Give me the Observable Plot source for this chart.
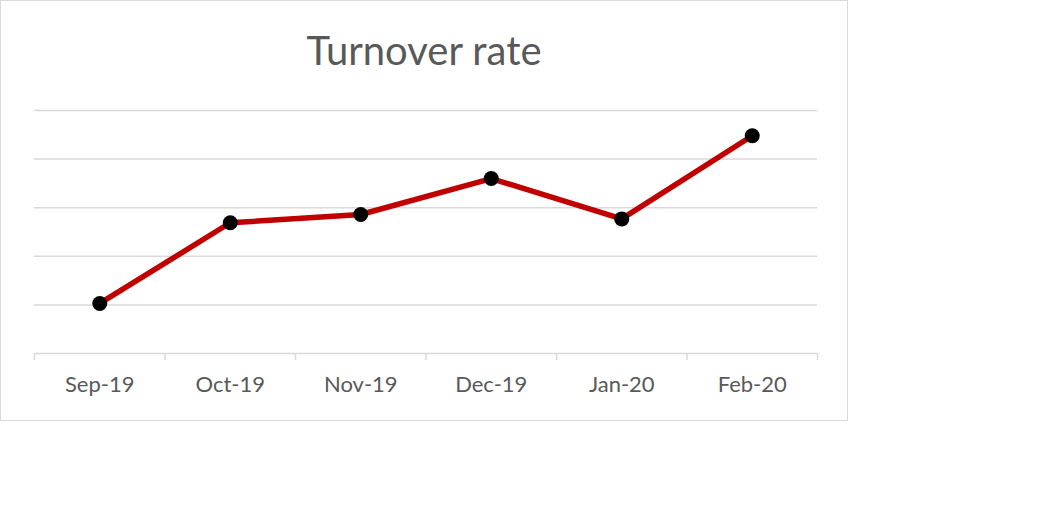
<!DOCTYPE html>
<html>
<head>
<meta charset="utf-8">
<script src="https://cdn.jsdelivr.net/npm/d3@7"></script>
<script src="https://cdn.jsdelivr.net/npm/@observablehq/plot@0.6"></script>
<style>
  html, body { margin: 0; padding: 0; background: #fff; }
  #box {
    position: absolute; left: 0; top: 0;
    width: 848px; height: 421px; box-sizing: border-box;
    border: 1px solid #d9d9d9; background: #fff;
  }
  #title {
    height: 89px; line-height: 98px; text-align: center;
    font-family: Lato, "Open Sans", sans-serif; font-weight: 400;
    font-size: 40px; color: #595959;
  }
</style>
</head>
<body>
<div id="box">
  <div id="title">Turnover rate</div>
  <div id="chart"></div>
</div>
<script>
const categories = ["Sep-19", "Oct-19", "Nov-19", "Dec-19", "Jan-20", "Feb-20"];
const values = [1.03, 2.69, 2.86, 3.6, 2.77, 4.48];
const gridValues = [1, 2, 3, 4, 5];

const data = categories.map((c, i) => ({i, c, v: values[i]}));
const boundaries = d3.range(categories.length + 1).map(k => k - 0.5);
const centers = d3.range(categories.length);

const chart = Plot.plot({
  width: 846,
  height: 330,
  marginLeft: 33,
  marginRight: 30,
  marginTop: 20,
  marginBottom: 67,
  style: {fontFamily: "Lato, 'Open Sans', sans-serif", background: "transparent", overflow: "visible"},
  x: {type: "linear", domain: [-0.5, categories.length - 0.5], axis: null, label: null},
  y: {domain: [0, 5], axis: null, label: null},
  marks: [
    Plot.gridY(gridValues, {stroke: "#d9d9d9", strokeOpacity: 1, strokeWidth: 1.5}),
    Plot.ruleY([0], {stroke: "#d9d9d9", strokeWidth: 1.5}),
    Plot.axisX(boundaries, {tickSize: 7, stroke: "#d9d9d9", strokeWidth: 1.5, tickFormat: () => "", strokeOpacity: 1, label: null}),
    Plot.axisX(centers, {tickSize: 0, tickPadding: 23, tickFormat: i => categories[i], fontSize: 22, fill: "#595959", label: null}),
    Plot.line(data, {x: "i", y: "v", stroke: "#c00000", strokeWidth: 5.5, strokeLinejoin: "round"}),
    Plot.dot(data, {x: "i", y: "v", r: 7.5, fill: "#000", stroke: "none"})
  ]
});
document.getElementById("chart").appendChild(chart);
</script>
</body>
</html>
